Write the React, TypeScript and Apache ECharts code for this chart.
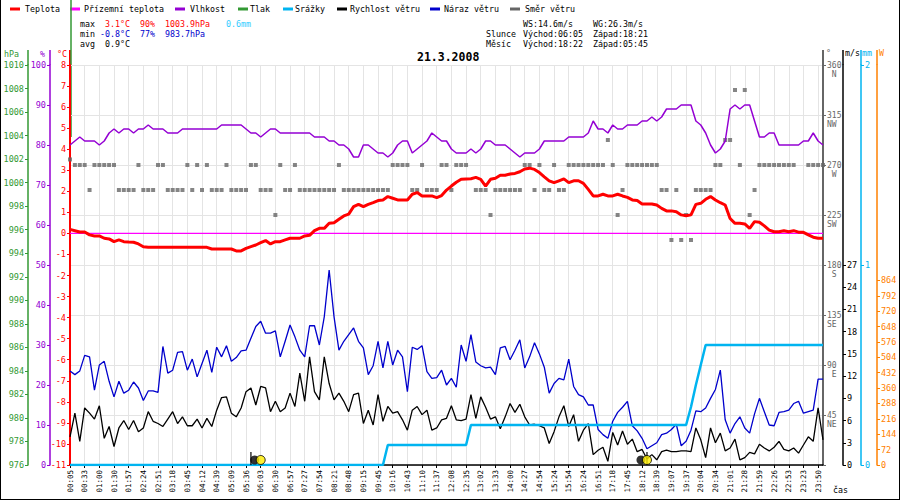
import { useEffect, useRef } from 'react';
import * as echarts from 'echarts';

const MONO = '"DejaVu Sans Mono", monospace';

// time labels on the x axis (one every 3 samples)
const timeLabels = [
  '00:05', '00:33', '01:00', '01:30', '01:57', '02:24', '02:51', '03:18', '03:45', '04:12',
  '04:39', '05:09', '05:36', '06:03', '06:30', '06:57', '07:27', '07:54', '08:21', '08:48',
  '09:15', '09:45', '10:16', '10:43', '11:10', '11:37', '12:08', '12:35', '13:02', '13:33',
  '14:00', '14:27', '14:54', '15:24', '15:54', '16:24', '16:51', '17:18', '17:45', '18:12',
  '18:39', '19:07', '19:37', '20:04', '20:34', '21:01', '21:28', '21:59', '22:26', '22:53',
  '23:23', '23:50'
];
const SPLIT = 3;

// °C
const temperature = [
  0.19, 0.13, 0.07, 0.07, -0.07, -0.12, -0.12, -0.23, -0.26, -0.39,
  -0.31, -0.39, -0.41, -0.42, -0.5, -0.63, -0.66, -0.66, -0.66, -0.66,
  -0.66, -0.66, -0.66, -0.66, -0.66, -0.66, -0.66, -0.66, -0.66, -0.74,
  -0.74, -0.74, -0.74, -0.74, -0.83, -0.83, -0.71, -0.63, -0.55, -0.44,
  -0.34, -0.5, -0.39, -0.39, -0.31, -0.23, -0.23, -0.23, -0.12, -0.09,
  0.13, 0.24, 0.24, 0.48, 0.51, 0.67, 0.83, 0.92, 1.27, 1.38,
  1.27, 1.38, 1.46, 1.56, 1.59, 1.75, 1.67, 1.59, 1.59, 1.59,
  1.86, 1.94, 1.78, 1.78, 1.78, 1.7, 1.8, 2.06, 2.25, 2.43,
  2.57, 2.59, 2.6, 2.66, 2.57, 2.25, 2.57, 2.62, 2.76, 2.76,
  2.82, 2.85, 2.93, 3.06, 3.1, 3.04, 2.89, 2.69, 2.5, 2.41,
  2.5, 2.59, 2.41, 2.5, 2.5, 2.38, 2.09, 1.78, 1.78, 1.86,
  1.78, 1.78, 1.86, 1.78, 1.71, 1.59, 1.56, 1.4, 1.4, 1.4,
  1.35, 1.19, 1.07, 1.07, 1.03, 0.88, 0.84, 0.88, 1.38, 1.43,
  1.62, 1.75, 1.59, 1.46, 1.35, 0.71, 0.48, 0.48, 0.45, 0.24,
  0.56, 0.53, 0.36, 0.16, 0.08, 0.08, 0.13, 0.08, 0.13, 0.06,
  0.05, -0.07, -0.18, -0.23, -0.23
];

// %
const humidity = [
  80, 81, 82, 81, 81, 81, 80, 81, 83, 84,
  83, 84, 84, 83, 84, 84, 85, 84, 84, 84,
  83, 83, 83, 84, 84, 84, 84, 84, 84, 84,
  84, 85, 85, 85, 85, 85, 84, 83, 83, 82,
  83, 84, 84, 83, 83, 83, 83, 83, 83, 83,
  82, 82, 82, 81, 81, 80, 80, 79, 77, 77,
  80, 80, 79, 78, 78, 77, 78, 80, 81, 81,
  78, 79, 80, 81, 83, 82, 81, 81, 79, 78,
  78, 78, 79, 78, 79, 81, 81, 80, 80, 80,
  79, 78, 77, 78, 78, 78, 79, 81, 81, 81,
  81, 81, 82, 82, 82, 82, 83, 86, 84, 84,
  83, 85, 84, 84, 85, 85, 85, 86, 86, 87,
  86, 87, 89, 89, 89, 90, 90, 90, 86, 85,
  83, 80, 78, 79, 81, 89, 90, 89, 90, 90,
  86, 82, 82, 83, 83, 80, 80, 80, 80, 80,
  81, 81, 83, 81, 80
];

// m/s
const windSpeed = [
  3.8, 7.0, 3.2, 7.7, 7.0, 6.2, 8.0, 3.6, 5.2, 2.5,
  5.0, 6.0, 4.8, 6.0, 4.5, 5.0, 7.2, 5.9, 5.6, 5.2,
  6.2, 7.2, 5.6, 6.5, 5.3, 5.3, 6.2, 5.0, 6.3, 5.2,
  7.4, 9.1, 9.2, 7.0, 6.5, 7.7, 9.9, 10.4, 8.1, 10.6,
  10.4, 7.2, 8.6, 7.2, 7.7, 9.7, 7.9, 12.4, 8.6, 14.6,
  9.9, 8.8, 14.6, 11.0, 8.8, 9.7, 8.6, 7.2, 9.5, 9.7,
  5.6, 7.4, 5.4, 9.5, 5.9, 7.9, 7.0, 7.2, 6.1, 4.7,
  7.4, 7.9, 6.8, 7.4, 4.7, 5.0, 6.1, 6.3, 8.0, 6.1,
  6.0, 6.2, 9.5, 6.3, 9.2, 7.8, 6.2, 6.5, 4.9, 6.5,
  8.3, 7.1, 8.2, 6.5, 5.4, 5.5, 5.3, 5.0, 2.9, 4.5,
  6.5, 8.0, 5.2, 6.8, 3.2, 4.7, 5.6, 1.4, 2.0, 2.4,
  0.5, 4.4, 2.7, 4.6, 2.8, 3.5, 1.8, 2.1, 0.8, 1.4,
  0.7, 1.8, 2.0, 1.8, 1.8, 1.9, 1.9, 1.8, 5.0, 3.4,
  1.0, 5.0, 3.0, 4.3, 1.9, 2.3, 3.5, 0.7, 1.0, 1.7,
  1.5, 2.8, 2.3, 1.9, 2.4, 3.2, 2.1, 1.9, 2.3, 1.6,
  2.7, 3.8, 3.2, 7.7, 3.4
];

// m/s
const windGust = [
  12.7, 12.2, 12.7, 14.8, 14.6, 10.1, 13.5, 14.0, 11.3, 9.2,
  11.3, 9.7, 10.1, 11.2, 10.4, 8.7, 10.0, 10.0, 9.8, 16.0,
  12.4, 12.8, 15.2, 15.3, 12.8, 14.3, 11.9, 13.7, 15.5, 12.5,
  15.9, 14.6, 16.1, 14.0, 14.5, 15.4, 15.5, 17.1, 18.7, 19.4,
  17.8, 17.8, 18.1, 14.6, 16.7, 18.9, 17.3, 15.5, 14.6, 18.8,
  18.8, 16.2, 20.0, 26.3, 20.0, 15.5, 16.7, 17.6, 18.5, 16.7,
  15.8, 12.2, 13.4, 16.7, 13.1, 16.7, 13.5, 15.5, 14.6, 9.9,
  15.9, 15.6, 16.1, 12.6, 11.7, 11.8, 12.8, 10.8, 11.7, 10.5,
  16.2, 14.0, 17.6, 13.9, 13.4, 13.1, 13.2, 12.2, 15.8, 16.0,
  14.2, 15.5, 16.9, 13.1, 14.6, 16.5, 15.0, 13.2, 9.7, 11.0,
  11.7, 11.5, 14.3, 10.6, 9.5, 9.2, 8.1, 8.1, 4.8, 4.1,
  3.6, 5.9, 7.1, 7.8, 8.6, 5.3, 4.6, 3.6, 2.2, 2.6,
  3.0, 4.1, 4.3, 4.8, 5.5, 2.6, 3.2, 4.7, 7.3, 7.2,
  7.7, 9.0, 10.2, 12.8, 6.1, 4.3, 5.6, 6.5, 5.0, 4.3,
  6.9, 9.0, 7.2, 5.4, 5.3, 7.1, 7.2, 7.4, 8.3, 8.6,
  7.0, 7.2, 7.4, 11.6, 11.6
];

// degrees
const windDir = [
  275, 270, 270, 270, 247.5, 270, 270, 270, 270, 270,
  247.5, 247.5, 247.5, 247.5, 270, 247.5, 247.5, 247.5, 270, 270,
  247.5, 247.5, 247.5, 247.5, 270, 247.5, 270, 247.5, 270, 247.5,
  247.5, 247.5, 270, 247.5, 247.5, 247.5, 247.5, 270, 270, 247.5,
  247.5, 247.5, 225, 270, 247.5, 247.5, 270, 247.5, 247.5, 247.5,
  247.5, 247.5, 247.5, 247.5, 247.5, 270, 247.5, 247.5, 247.5, 247.5,
  247.5, 247.5, 247.5, 247.5, 247.5, 247.5, 270, 270, 270, 270,
  247.5, 247.5, 270, 247.5, 247.5, 247.5, 270, 270, 247.5, 270,
  270, 270, null, 247.5, 247.5, 247.5, 225, 247.5, 247.5, 247.5,
  247.5, 247.5, 247.5, 270, 270, 247.5, 270, 247.5, 247.5, 270,
  247.5, 247.5, 270, 270, 270, 270, 270, 270, 270, 270,
  292.5, 270, 225, 247.5, 270, 270, 270, 270, 270, 270,
  270, 247.5, 247.5, 202.5, 247.5, 202.5, 225, 202.5, 247.5, 247.5,
  247.5, 247.5, 270, 270, 292.5, 292.5, 337.5, 270, 337.5, 225,
  247.5, 270, 270, 270, 270, 270, 270, 270, 270, null,
  null, 270, 270, 270, 270
];

// mm (cumulative)
const rain = [
  0, 0, 0, 0, 0, 0, 0, 0, 0, 0,
  0, 0, 0, 0, 0, 0, 0, 0, 0, 0,
  0, 0, 0, 0, 0, 0, 0, 0, 0, 0,
  0, 0, 0, 0, 0, 0, 0, 0, 0, 0,
  0, 0, 0, 0, 0, 0, 0, 0, 0, 0,
  0, 0, 0, 0, 0, 0, 0, 0, 0, 0,
  0, 0, 0, 0, 0, 0.1, 0.1, 0.1, 0.1, 0.1,
  0.1, 0.1, 0.1, 0.1, 0.1, 0.1, 0.1, 0.1, 0.1, 0.1,
  0.1, 0.1, 0.2, 0.2, 0.2, 0.2, 0.2, 0.2, 0.2, 0.2,
  0.2, 0.2, 0.2, 0.2, 0.2, 0.2, 0.2, 0.2, 0.2, 0.2,
  0.2, 0.2, 0.2, 0.2, 0.2, 0.2, 0.2, 0.2, 0.2, 0.2,
  0.2, 0.2, 0.2, 0.2, 0.2, 0.2, 0.2, 0.2, 0.2, 0.2,
  0.2, 0.2, 0.2, 0.2, 0.2, 0.2, 0.2, 0.29, 0.4, 0.5,
  0.6, 0.6, 0.6, 0.6, 0.6, 0.6, 0.6, 0.6, 0.6, 0.6,
  0.6, 0.6, 0.6, 0.6, 0.6, 0.6, 0.6, 0.6, 0.6, 0.6,
  0.6, 0.6, 0.6, 0.6, 0.6
];

const groundTempLevel = 0;
const windScaleTicks = [0, 3, 6, 9, 12, 15, 18, 21, 24, 27];
const solarScaleTicks = [0, 72, 144, 216, 288, 360, 432, 504, 576, 648, 720, 792, 864];
const directionNames: Record<number, string> = {
  45: 'NE', 90: ' E', 135: 'SE', 180: ' S', 225: 'SW', 270: ' W', 315: 'NW', 360: ' N'
};
const sunTimes = ['06:05', '18:21'];
const moonTimes = ['05:45', '18:22'];

const RED = '#ff0000';
const MAGENTA = '#ff00ff';
const PURPLE = '#9400d3';
const GREEN = '#339933';
const SKY = '#00b4f0';
const NAVY = '#0000cc';
const GRAY = '#666666';
const ORANGE = '#ff8000';
const GRID = '#e4e4e4';

const toMin = (t: string) => {
  const [h, m] = t.split(':').map(Number);
  return h * 60 + m;
};

const timeToIndex = (t: string) => {
  const m = toMin(t);
  for (let j = 0; j < timeLabels.length - 1; j++) {
    const a = toMin(timeLabels[j]);
    const b = toMin(timeLabels[j + 1]);
    if (m >= a && m <= b) return Math.round(SPLIT * (j + (m - a) / (b - a)));
  }
  return 0;
};

const categories = temperature.map((_, i) => (i % SPLIT === 0 ? timeLabels[i / SPLIT] ?? '' : ''));

const txt = (text: string, x: number, y: number, fill: string, fontSize = 8.3, fontWeight = 'normal') => ({
  type: 'text',
  x,
  y,
  silent: true,
  style: { text, fill, fontSize, fontWeight, fontFamily: MONO, textVerticalAlign: 'middle', verticalAlign: 'middle' }
});

const vline = (x: number, y1: number, y2: number, stroke: string, lineWidth = 1) => ({
  type: 'line',
  silent: true,
  shape: { x1: x, y1, x2: x, y2 },
  style: { stroke, lineWidth }
});

const legendItems: [string, string, number, number][] = [
  ['Teplota', RED, 10, 25],
  ['Přízemní teplota', MAGENTA, 70, 84],
  ['Vlhkost', PURPLE, 175, 190],
  ['Tlak', GREEN, 238, 250],
  ['Srážky', SKY, 283, 295],
  ['Rychlost větru', '#000000', 337, 350],
  ['Náraz větru', NAVY, 430, 444],
  ['Směr větru', GRAY, 510, 525]
];

const axisFont = { fontFamily: MONO, fontSize: 8.5 };

const sideAxis = (color: string, position: 'left' | 'right', offset: number, min: number, max: number, interval: number, width = 1.5) => ({
  type: 'value' as const,
  position,
  offset,
  min,
  max,
  interval,
  axisLine: { show: true, onZero: false, lineStyle: { color, width } },
  axisTick: { show: true, length: 3, lineStyle: { color } },
  axisLabel: { color, margin: 4, ...axisFont, formatter: (v: number) => String(v) },
  splitLine: { show: false }
});

const App = () => {
  const chartRef = useRef<HTMLDivElement>(null);

  useEffect(() => {
    if (!chartRef.current) return;
    document.body.style.margin = '0';
    const chart = echarts.init(chartRef.current, null, { renderer: 'svg' });

    const sunIdx = sunTimes.map(timeToIndex);
    const moonIdx = moonTimes.map(timeToIndex);

    const graphics: any[] = [];
    legendItems.forEach(([name, color, dx, tx]) => {
      graphics.push({
        type: 'line', silent: true,
        shape: { x1: dx, y1: 9, x2: dx + 10, y2: 9 },
        style: { stroke: color, lineWidth: 3 }
      });
      graphics.push(txt(name, tx, 9, '#000'));
    });
    graphics.push(
      txt('max', 80, 24, '#000'), txt('3.1°C', 105, 24, RED), txt('90%', 140, 24, RED),
      txt('1003.9hPa', 165, 24, RED), txt('0.6mm', 226, 24, '#33ccff'),
      txt('min', 80, 34, '#000'), txt('-0.8°C', 100, 34, NAVY), txt('77%', 140, 34, NAVY),
      txt('983.7hPa', 165, 34, NAVY),
      txt('avg', 80, 44, '#000'), txt('0.9°C', 105, 44, '#000'),
      txt('WS:14.6m/s', 523, 24, '#000'), txt('WG:26.3m/s', 593, 24, '#000'),
      txt('Slunce', 486, 34, '#000'), txt('Východ:06:05', 523, 34, '#000'), txt('Západ:18:21', 593, 34, '#000'),
      txt('Měsíc', 486, 44, '#000'), txt('Východ:18:22', 523, 44, '#000'), txt('Západ:05:45', 593, 44, '#000'),
      txt('21.3.2008', 417, 57, '#000', 11.5, 'bold'),
      txt('hPa', 4, 54, GREEN), txt('%', 40, 54, PURPLE), txt('°C', 57, 54, RED),
      txt('°', 826, 53, GRAY), txt('m/s', 845, 53, '#000'), txt('mm', 862, 53, SKY), txt('W', 879, 53, ORANGE),
      txt('čas', 833, 490, '#000'),
      vline(28, 50, 65, GREEN, 1.5), vline(50, 50, 65, PURPLE, 1.5), vline(70, 50, 65, RED, 2),
      vline(823, 50, 65, GRAY, 2), vline(843, 50, 65, '#000', 1.5), vline(861, 50, 65, SKY, 1.5),
      vline(877, 50, 65, ORANGE, 1.5),
      vline(71, 0, 137, GREEN, 1.5),
      vline(0.5, 0, 500, '#000', 1), vline(899.5, 0, 500, '#000', 1),
      { type: 'line', silent: true, shape: { x1: 0, y1: 499.5, x2: 900, y2: 499.5 }, style: { stroke: '#000', lineWidth: 1 } }
    );

    chart.setOption({
      animation: false,
      grid: { left: 70, right: 77, top: 65, bottom: 35, containLabel: false },
      xAxis: {
        type: 'category',
        data: categories,
        boundaryGap: false,
        axisLine: { show: true, onZero: false, lineStyle: { color: '#000', width: 1.5 } },
        axisTick: { interval: SPLIT - 1, length: 3, lineStyle: { color: '#000' } },
        axisLabel: { interval: SPLIT - 1, rotate: 90, margin: 5, color: '#000', fontFamily: MONO, fontSize: 7.5 },
        splitLine: { show: true, interval: SPLIT - 1, lineStyle: { color: GRID, width: 1 } }
      },
      yAxis: [
        sideAxis(RED, 'left', 0, -11, 8, 1, 2),
        sideAxis(PURPLE, 'left', 20, 0, 100, 10),
        sideAxis(GREEN, 'left', 42, 976, 1010, 2),
        {
          ...sideAxis(GRAY, 'right', 0, 0, 360, 45, 2),
          splitLine: { show: true, lineStyle: { color: GRID, width: 1 } },
          axisLabel: {
            color: GRAY, margin: 4, fontFamily: MONO, fontSize: 8,
            formatter: (v: number) => (v === 0 ? '' : String(v))
          }
        },
        {
          ...sideAxis('#000', 'right', 20, 0, 54, 3),
          axisTick: { show: true, length: 3, lineStyle: { color: '#000' }, customValues: windScaleTicks },
          axisLabel: {
            color: '#000', margin: 4, ...axisFont, customValues: windScaleTicks,
            formatter: (v: number) => (v <= 27 ? String(v) : '')
          }
        },
        sideAxis(SKY, 'right', 38, 0, 2, 1),
        {
          ...sideAxis(ORANGE, 'right', 54, 0, 1872, 72),
          axisTick: { show: true, length: 3, lineStyle: { color: ORANGE }, customValues: solarScaleTicks },
          axisLabel: {
            color: ORANGE, margin: 4, ...axisFont, customValues: solarScaleTicks,
            formatter: (v: number) => (v <= 864 ? String(v) : '')
          }
        },
        {
          // compass names under the direction numbers
          type: 'value', position: 'right', offset: 0, min: 0, max: 360, interval: 45,
          axisLine: { show: false }, axisTick: { show: false }, splitLine: { show: false },
          axisLabel: {
            color: GRAY, margin: 4, fontFamily: MONO, fontSize: 8, verticalAlign: 'top', lineHeight: 18,
            formatter: (v: number) => directionNames[v] ?? ''
          }
        }
      ],
      graphic: graphics,
      series: [
        {
          name: 'Směr větru', type: 'scatter', yAxisIndex: 3, data: windDir,
          symbol: 'rect', symbolSize: 4, itemStyle: { color: GRAY }, z: 2, silent: true
        },
        {
          name: 'Vlhkost', type: 'line', yAxisIndex: 1, data: humidity, symbol: 'none',
          lineStyle: { color: PURPLE, width: 1.5 }, z: 3, silent: true
        },
        {
          name: 'Náraz větru', type: 'line', yAxisIndex: 4, data: windGust, symbol: 'none',
          lineStyle: { color: NAVY, width: 1.3 }, z: 3, silent: true
        },
        {
          name: 'Rychlost větru', type: 'line', yAxisIndex: 4, data: windSpeed, symbol: 'none',
          lineStyle: { color: '#000', width: 1.3 }, z: 3, silent: true
        },
        {
          name: 'Srážky', type: 'line', yAxisIndex: 5, data: rain, symbol: 'none',
          lineStyle: { color: SKY, width: 2.5 }, z: 4, silent: true
        },
        {
          name: 'Teplota', type: 'line', yAxisIndex: 0, data: temperature, symbol: 'none',
          lineStyle: { color: RED, width: 3 }, z: 5, silent: true
        },
        {
          name: 'Měsíc', type: 'scatter', yAxisIndex: 4, silent: true, z: 6,
          data: moonIdx.map((i) => [i, 0]),
          symbol: 'rect', symbolSize: [1.5, 13], symbolOffset: [0, -6.5],
          itemStyle: { color: '#000' }
        },
        {
          name: 'Slunce stín', type: 'scatter', yAxisIndex: 4, silent: true, z: 6,
          data: sunIdx.map((i) => [i, 0]),
          symbol: 'circle', symbolSize: 9, symbolOffset: [-6, -5],
          itemStyle: { color: '#000' }
        },
        {
          name: 'Slunce', type: 'scatter', yAxisIndex: 4, silent: true, z: 7,
          data: sunIdx.map((i) => [i, 0]),
          symbol: 'circle', symbolSize: 9, symbolOffset: [0, -5],
          itemStyle: { color: '#ffee00', borderColor: '#000', borderWidth: 1 }
        }
      ]
    });

    // ground temperature level (Přízemní teplota), placed through the temperature axis
    const gy = chart.convertToPixel({ yAxisIndex: 0 }, groundTempLevel) as number;
    const x0 = chart.convertToPixel({ xAxisIndex: 0 }, 0) as number;
    const x1 = chart.convertToPixel({ xAxisIndex: 0 }, temperature.length - 1) as number;
    chart.setOption({
      graphic: [
        ...graphics,
        {
          type: 'line', silent: true, z: 1,
          shape: { x1: x0, y1: gy, x2: x1, y2: gy },
          style: { stroke: MAGENTA, lineWidth: 1.2 }
        }
      ]
    });

    return () => {
      chart.dispose();
    };
  }, []);

  return <div ref={chartRef} style={{ width: '900px', height: '500px' }} />;
};

export default App;
